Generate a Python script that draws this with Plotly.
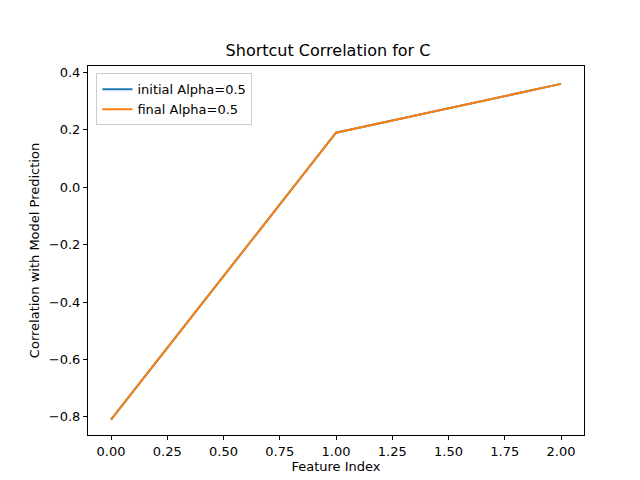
import plotly.graph_objects as go

x_vals = [0, 1, 2]
initial_vals = [-0.81, 0.19, 0.36]
final_vals = [-0.81, 0.19, 0.36]

fig = go.Figure()
fig.add_trace(go.Scatter(x=x_vals, y=initial_vals, mode="lines", name="initial Alpha=0.5",
                         line=dict(color="#1f77b4", width=2)))
fig.add_trace(go.Scatter(x=x_vals, y=final_vals, mode="lines", name="final Alpha=0.5",
                         line=dict(color="#ff7f0e", width=2)))

axis_style = dict(showgrid=False, zeroline=False, showline=True, linecolor="black", linewidth=1,
                  mirror=True, ticks="outside", ticklen=4, tickcolor="black", automargin=False,
                  tickfont=dict(size=13, color="black"))

fig.update_layout(
    width=640, height=480,
    paper_bgcolor="white", plot_bgcolor="white",
    font=dict(family="DejaVu Sans", color="black"),
    title=dict(text="Shortcut Correlation for C", x=0.5, xanchor="center", y=0.912, yanchor="middle",
               font=dict(size=16), automargin=False),
    margin=dict(l=80, r=64, t=57.6, b=52.8, autoexpand=False),
    xaxis=dict(axis_style, range=[-0.1022, 2.102], tickvals=[0, 0.25, 0.5, 0.75, 1, 1.25, 1.5, 1.75, 2],
               ticktext=["0.00", "0.25", "0.50", "0.75", "1.00", "1.25", "1.50", "1.75", "2.00"],
               title=dict(text="Feature Index", font=dict(size=13), standoff=4)),
    yaxis=dict(axis_style, range=[-0.8633, 0.4223], tickvals=[-0.8, -0.6, -0.4, -0.2, 0, 0.2, 0.4],
               ticktext=["\u22120.8", "\u22120.6", "\u22120.4", "\u22120.2", "0.0", "0.2", "0.4"],
               title=dict(text="Correlation with Model Prediction", font=dict(size=13), standoff=6)),
    legend=dict(x=0.017, y=0.98, xanchor="left", yanchor="top", bgcolor="rgba(255,255,255,0.8)",
                bordercolor="#cccccc", borderwidth=1, font=dict(size=13)),
    showlegend=True,
)

fig.write_html("out.html")
